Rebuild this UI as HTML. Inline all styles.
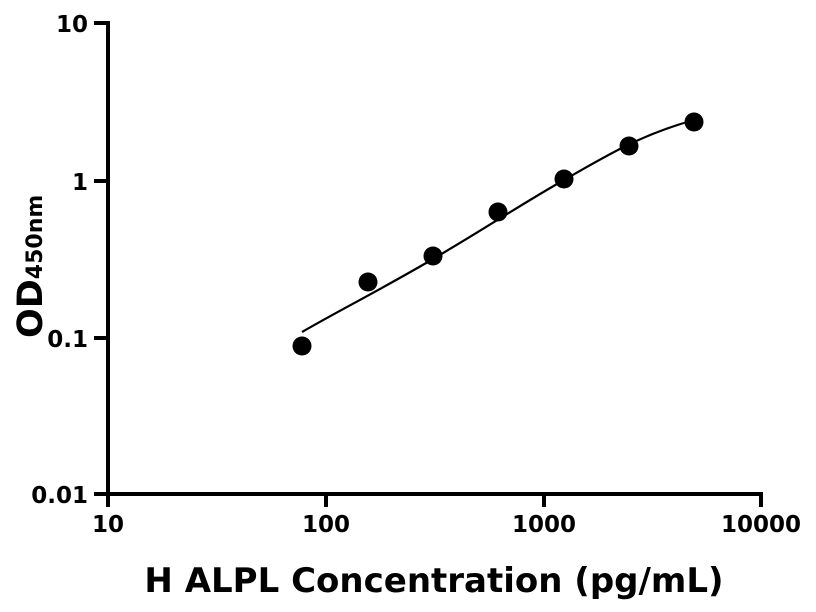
<!DOCTYPE html>
<html><head><style>body{margin:0;background:#fff}svg{display:block}</style></head><body>
<svg width="816" height="612" xmlns="http://www.w3.org/2000/svg" font-family="DejaVu Sans, Liberation Sans, sans-serif" font-weight="bold">
<g stroke="#000" stroke-width="4" fill="none">
<line x1="108" y1="21" x2="108" y2="496"/>
<line x1="106" y1="494" x2="763" y2="494"/>
<line x1="94" y1="23" x2="108" y2="23"/>
<line x1="94" y1="181" x2="108" y2="181"/>
<line x1="94" y1="338" x2="108" y2="338"/>
<line x1="94" y1="494" x2="108" y2="494"/>
<line x1="108" y1="494" x2="108" y2="507"/>
<line x1="326" y1="494" x2="326" y2="507"/>
<line x1="544" y1="494" x2="544" y2="507"/>
<line x1="761" y1="494" x2="761" y2="507"/>
</g>
<g font-size="23" text-anchor="end">
<text x="88" y="32">10</text><text x="88" y="190">1</text><text x="88" y="347">0.1</text><text x="88" y="503">0.01</text>
</g>
<g font-size="23" text-anchor="middle">
<text x="108" y="532">10</text><text x="326" y="532">100</text><text x="544" y="532">1000</text><text x="761" y="532">10000</text>
</g>
<text x="434" y="592" font-size="34" text-anchor="middle">H ALPL Concentration (pg/mL)</text>
<text transform="translate(42,338) rotate(-90)" font-size="35">OD<tspan font-size="22">450nm</tspan></text>
<path d="M302,332 C340,310 380,290 433,259 S520,205 564,180 S640,135 694,120" stroke="#000" stroke-width="2.2" fill="none"/>
<g fill="#000">
<circle cx="302" cy="346" r="9.5"/><circle cx="368" cy="282" r="9.5"/><circle cx="433" cy="256" r="9.5"/><circle cx="498" cy="212" r="9.5"/><circle cx="564" cy="179" r="9.5"/><circle cx="629" cy="146" r="9.5"/><circle cx="694" cy="122" r="9.5"/>
</g>
</svg>
</body></html>
